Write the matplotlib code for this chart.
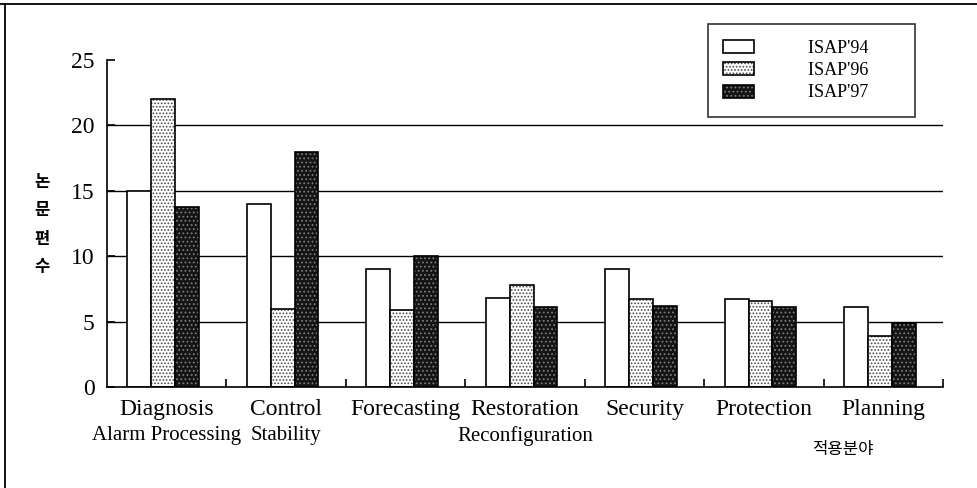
import numpy as np
import matplotlib
matplotlib.use("Agg")
import matplotlib.pyplot as plt
from matplotlib.lines import Line2D
from matplotlib.legend_handler import HandlerTuple

plt.rcParams['font.family'] = ['Liberation Serif', 'DejaVu Serif']
plt.rcParams['hatch.linewidth'] = 0.8

cat_line1 = ['Diagnosis', 'Control', 'Forecasting', 'Restoration', 'Security', 'Protection', 'Planning']
cat_line2 = ['Alarm Processing', 'Stability', '', 'Reconfiguration', '', '', '']
isap94 = [15, 14, 9, 6.8, 9, 6.7, 6.1]
isap96 = [22, 6, 5.9, 7.8, 6.7, 6.6, 3.9]
isap97 = [13.8, 18, 10, 6.1, 6.2, 6.1, 4.9]
labels = ["ISAP'94", "ISAP'96", "ISAP'97"]
yticks = [0, 5, 10, 15, 20, 25]

fig = plt.figure(figsize=(9.77, 4.88), dpi=100)
ax = fig.add_axes([0.1095, 0.207, 0.856, 0.67])

x = np.arange(len(cat_line1))
w = 0.2
off = -0.03

# grid lines behind the bars
for yv in yticks[1:-1]:
    ax.axhline(yv, color='black', lw=1.0, zorder=0)

b1 = ax.bar(x + off - w, isap94, w, facecolor='white', edgecolor='black', lw=1.2, zorder=2)
# hatched fills, then black outlines on top
h2 = ax.bar(x + off, isap96, w, facecolor='white', edgecolor='#4a4a4a', hatch='.....', lw=0, zorder=2)
o2 = ax.bar(x + off, isap96, w, fill=False, edgecolor='black', lw=1.2, zorder=3)
h3 = ax.bar(x + off + w, isap97, w, facecolor='#141414', edgecolor='#7a7a7a', hatch='....', lw=0, zorder=2)
o3 = ax.bar(x + off + w, isap97, w, fill=False, edgecolor='black', lw=1.2, zorder=3)

ax.set_xlim(-0.5, len(cat_line1) - 0.5)
ax.set_ylim(0, 25)
ax.set_yticks(yticks)
ax.tick_params(axis='y', direction='in', length=6, width=1.2, pad=9, labelsize=17)
ax.set_xticks(x)
ax.set_xticklabels(cat_line1, fontsize=17)
ax.tick_params(axis='x', which='major', length=0, pad=9)
for xi, t in zip(x, cat_line2):
    ax.annotate(t, (xi, 0), xytext=(0, -35), textcoords='offset points',
                ha='center', va='center', fontsize=15)
ax.set_xticks(list(x[:-1] + 0.5) + [len(cat_line1) - 0.5], minor=True)
ax.tick_params(axis='x', which='minor', direction='in', length=6, width=1.2)
for s in ['top', 'right']:
    ax.spines[s].set_visible(False)
for s in ['left', 'bottom']:
    ax.spines[s].set_linewidth(1.2)

leg = ax.legend([b1[0], (h2[0], o2[0]), (h3[0], o3[0])],
                [l + '       ' for l in labels],
                handler_map={tuple: HandlerTuple(ndivide=1, pad=0)},
                loc='upper right', bbox_to_anchor=(0.977, 1.137),
                fontsize=13, frameon=True, fancybox=False, edgecolor='black',
                handlelength=1.7, handleheight=0.75, handletextpad=3.0,
                labelspacing=0.3, borderpad=0.85)
leg.get_frame().set_linewidth(1.2)

fig.text(0.043, 0.54, '논\n문\n편\n수', fontsize=12, family=['Noto Sans CJK KR'],
         weight='bold', ha='center', va='center', linespacing=1.75)
fig.text(0.863, 0.079, '적용분야', fontsize=12, family=['Noto Sans CJK KR'],
         ha='center', va='center')

# outer frame: top and left edges
fig.add_artist(Line2D([0, 1], [0.992, 0.992], color='black', lw=1.3, transform=fig.transFigure))
fig.add_artist(Line2D([0.005, 0.005], [0, 0.992], color='black', lw=1.3, transform=fig.transFigure))

fig.savefig('out.png', dpi=100)
